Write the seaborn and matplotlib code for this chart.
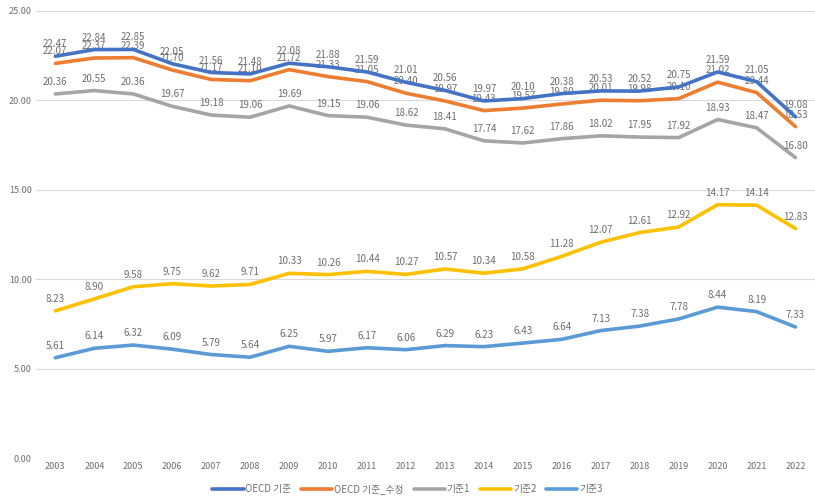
import pandas as pd
import matplotlib.pyplot as plt
import seaborn as sns

years = list(range(2003, 2023))

oecd = [22.47, 22.84, 22.85, 22.05, 21.56, 21.48, 22.08, 21.88, 21.59, 21.01,
        20.56, 19.97, 20.10, 20.38, 20.53, 20.52, 20.75, 21.59, 21.05, 19.08]
oecd_fix = [22.07, 22.37, 22.39, 21.70, 21.17, 21.10, 21.72, 21.33, 21.05, 20.40,
            19.97, 19.43, 19.57, 19.80, 20.01, 19.98, 20.10, 21.02, 20.44, 18.53]
base1 = [20.36, 20.55, 20.36, 19.67, 19.18, 19.06, 19.69, 19.15, 19.06, 18.62,
         18.41, 17.74, 17.62, 17.86, 18.02, 17.95, 17.92, 18.93, 18.47, 16.80]
base2 = [8.23, 8.90, 9.58, 9.75, 9.62, 9.71, 10.33, 10.26, 10.44, 10.27,
         10.57, 10.34, 10.58, 11.28, 12.07, 12.61, 12.92, 14.17, 14.14, 12.83]
base3 = [5.61, 6.14, 6.32, 6.09, 5.79, 5.64, 6.25, 5.97, 6.17, 6.06,
         6.29, 6.23, 6.43, 6.64, 7.13, 7.38, 7.78, 8.44, 8.19, 7.33]

names = ['OECD 기준', 'OECD 기준_수정', '기준1', '기준2', '기준3']
series = [oecd, oecd_fix, base1, base2, base3]
colors = ['#4472C4', '#ED7D31', '#A5A5A5', '#FFC000', '#5B9BD5']

rows = []
for name, vals in zip(names, series):
    for i, (yr, v) in enumerate(zip(years, vals)):
        rows.append({'idx': i, 'year': yr, 'value': v, 'series': name})
df = pd.DataFrame(rows)

sns.set_style("white")
plt.rcParams['font.family'] = ['Noto Sans CJK KR', 'DejaVu Sans']

fig = plt.figure(figsize=(8.15, 4.99), dpi=100)
ax = fig.add_axes([0.044, 0.082, 0.956, 0.896])

sns.lineplot(data=df, x='idx', y='value', hue='series', hue_order=names,
             palette=colors, linewidth=2.6, ax=ax, legend=True)

# labels of the corrected OECD series sit under the blue line, as in the source
for name, vals in zip(names, series):
    z = 1.5 if name == 'OECD 기준_수정' else 3
    for i, v in enumerate(vals):
        ax.annotate(f'{v:.2f}', (i, v), xytext=(0, 5), textcoords='offset points',
                    ha='center', va='bottom', fontsize=7, color='#6E6E6E',
                    zorder=z)

ax.set_xlim(-0.5, len(years) - 0.5)
ax.set_ylim(0, 25)
ax.set_yticks([0, 5, 10, 15, 20, 25])
ax.set_yticklabels([f'{t:.2f}' for t in [0, 5, 10, 15, 20, 25]])
ax.set_xticks(range(len(years)))
ax.set_xticklabels([str(y) for y in years])
ax.tick_params(axis='both', labelsize=6.5, colors='#6E6E6E', length=0, pad=3)
ax.yaxis.grid(True, color='#D9D9D9', linewidth=0.8)
ax.set_axisbelow(True)
for s in ax.spines.values():
    s.set_visible(False)
ax.set_xlabel('')
ax.set_ylabel('')

handles, labels = ax.get_legend_handles_labels()
ax.get_legend().remove()
fig.legend(handles, labels, loc='center', bbox_to_anchor=(0.5, 0.02), ncol=5,
           frameon=False, fontsize=7, handlelength=3.2, handletextpad=0.2,
           columnspacing=1.0, labelcolor='#6E6E6E')

fig.savefig('out.png', dpi=100)
